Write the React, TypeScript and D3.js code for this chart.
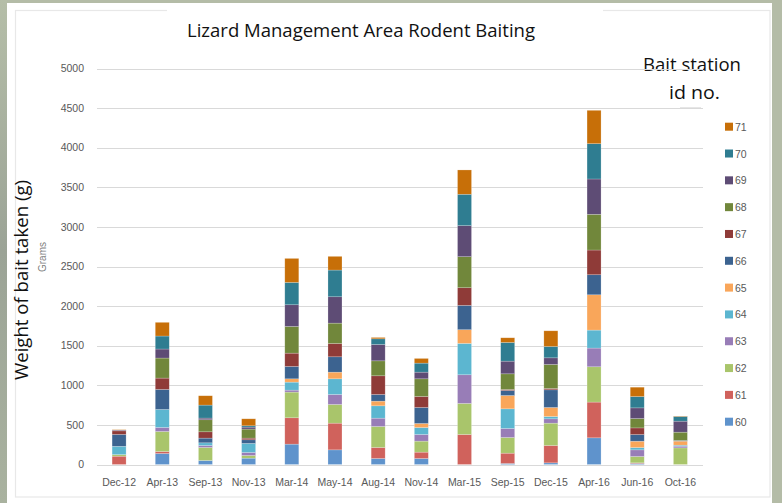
import React from "react";
import * as d3 from "d3";

const categories = ["Dec-12","Apr-13","Sep-13","Nov-13","Mar-14","May-14","Aug-14","Nov-14","Mar-15","Sep-15","Dec-15","Apr-16","Jun-16","Oct-16"];
const stations = ["60","61","62","63","64","65","66","67","68","69","70","71"];
const s60 = [0,139,51,80,257,185,76,76,0,13,21,337,13,0];
const s61 = [105,25,0,0,333,337,139,80,379,130,219,451,8,0];
const s62 = [20,253,164,34,324,236,265,139,392,198,282,446,80,210];
const s63 = [0,51,25,38,25,126,105,84,362,114,55,236,84,21];
const s64 = [105,227,34,114,101,198,156,88,396,248,29,227,29,13];
const s65 = [0,0,0,0,42,84,59,51,173,168,114,446,80,51];
const s66 = [150,253,59,46,156,194,84,202,307,63,223,253,84,8];
const s67 = [45,143,80,21,168,168,236,139,223,13,17,312,84,0];
const s68 = [0,253,152,114,337,257,189,223,392,198,303,451,118,105];
const s69 = [10,114,21,25,274,333,206,84,392,160,84,446,135,139];
const s70 = [0,164,164,17,282,337,72,114,396,236,143,446,143,59];
const s71 = [5,173,118,88,303,173,17,59,307,59,198,421,118,5];
const seriesValues = [s60,s61,s62,s63,s64,s65,s66,s67,s68,s69,s70,s71];
const colors = ["#5f93cc","#d0625c","#a9c56b","#987db7","#5cb6d0","#f9a65a","#3c6390","#8f3b38","#71873b","#5e4c75","#2f7d91","#c76f08"];
const yTicks = [0,500,1000,1500,2000,2500,3000,3500,4000,4500,5000];

export default function App() {
  const x = d3.scaleBand<string>().domain(categories).range([97.5, 702]).padding(0);
  const y = d3.scaleLinear().domain([0, 5000]).range([464.5, 68.5]);
  const barW = 14;
  const table = categories.map((c, i) => {
    const row: any = { cat: c };
    stations.forEach((s, k) => (row[s] = seriesValues[k][i]));
    return row;
  });
  const stacked = d3.stack<any>().keys(stations)(table);
  const legendY = d3.scalePoint<string>().domain([...stations].reverse()).range([126.7, 421.7]);
  const font = "'Liberation Sans', Arial, sans-serif";
  const titleFont = "'Open Sans', 'Noto Sans', sans-serif";

  return (
    <svg width={782} height={503} style={{ position: "absolute", left: 0, top: 0 }}>
      <defs>
        <linearGradient id="leftg" x1="0" y1="0" x2="0" y2="1">
          <stop offset="0" stopColor="#b5bea8" />
          <stop offset="0.5" stopColor="#9ba396" />
          <stop offset="1" stopColor="#a9b29f" />
        </linearGradient>
      </defs>
      <rect x={0} y={0} width={782} height={503} fill="#b4bca7" />
      <rect x={0} y={0} width={7} height={503} fill="url(#leftg)" />
      <rect x={7} y={3} width={765} height={500} fill="#ffffff" />
      <rect x={15.5} y={10.5} width={754.5} height={486.5} fill="none" stroke="#e8e8e8" strokeWidth={1.2} />
      <rect x={167} y={8} width={436} height={5} fill="#ffffff" />
      <line x1={680} x2={701} y1={107.5} y2={107.5} stroke="#e6e6e6" />

      <text x={361} y={37} fontFamily={titleFont} fontSize={18} fill="#111" textAnchor="middle" textLength={348} lengthAdjust="spacingAndGlyphs">Lizard Management Area Rodent Baiting</text>
      <text x={692} y={71} fontFamily={titleFont} fontSize={18} fill="#111" textAnchor="middle" textLength={98} lengthAdjust="spacingAndGlyphs">Bait station</text>
      <text x={694.5} y={99} fontFamily={titleFont} fontSize={18} fill="#111" textAnchor="middle" textLength={51} lengthAdjust="spacingAndGlyphs">id no.</text>

      <text transform="translate(28,280) rotate(-90)" fontFamily={titleFont} fontSize={19} fill="#111" textAnchor="middle" textLength={200} lengthAdjust="spacingAndGlyphs">Weight of bait taken (g)</text>
      <text transform="translate(45.5,257) rotate(-90)" fontFamily={font} fontSize={10} fill="#7f7f7f" textAnchor="middle">Grams</text>

      {yTicks.map((t) => (
        <g key={t}>
          <line x1={97} x2={703} y1={Math.round(y(t)) + 0.5} y2={Math.round(y(t)) + 0.5} stroke="#d9d9d9" strokeWidth={1} />
          <text x={84} y={y(t)} dy="0.35em" textAnchor="end" fontFamily={font} fontSize={10.5} fill="#595959">{t}</text>
        </g>
      ))}

      {stacked.map((layer, k) => (
        <g key={layer.key} fill={colors[k]}>
          {layer.map((d, i) => {
            const h = y(d[0]) - y(d[1]);
            if (h <= 0) return null;
            const cx = (x(categories[i]) as number) + x.bandwidth() / 2;
            return <rect key={i} x={cx - barW / 2} y={y(d[1])} width={barW} height={h} stroke="#ffffff" strokeOpacity={0.35} strokeWidth={0.6} />;
          })}
        </g>
      ))}

      {categories.map((c) => (
        <text key={c} x={(x(c) as number) + x.bandwidth() / 2} y={482} dy="0.35em" textAnchor="middle" fontFamily={font} fontSize={10.5} fill="#595959">{c}</text>
      ))}

      {stations.map((s, k) => (
        <g key={s}>
          <rect x={725} y={(legendY(s) as number) - 4} width={8} height={8} fill={colors[k]} />
          <text x={735} y={legendY(s) as number} dy="0.38em" fontFamily={font} fontSize={10.5} fill="#595959">{s}</text>
        </g>
      ))}
    </svg>
  );
}
